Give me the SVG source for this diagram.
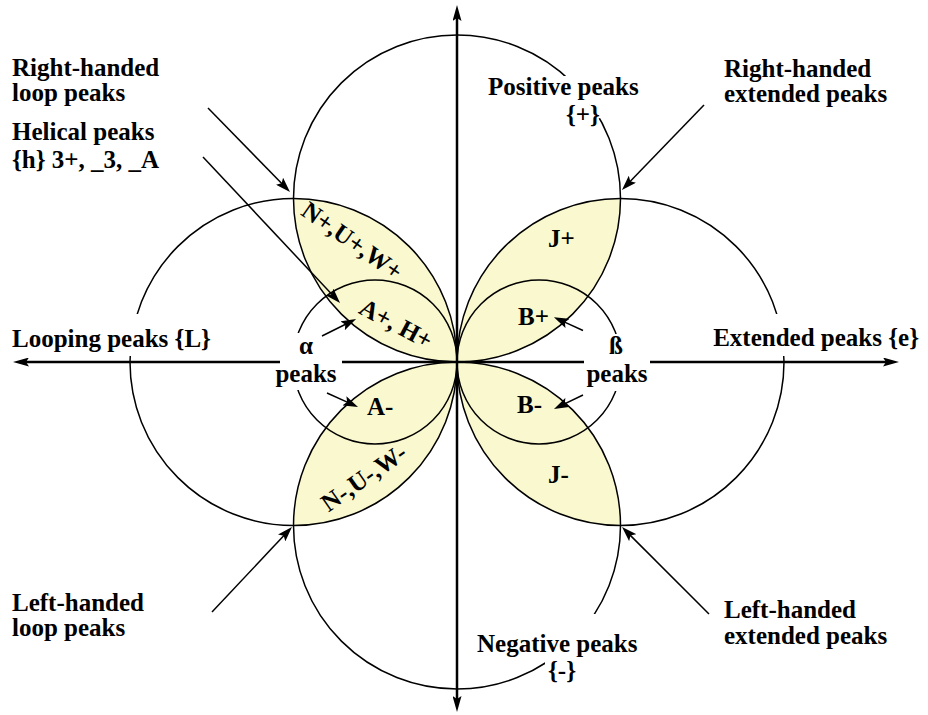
<svg xmlns="http://www.w3.org/2000/svg" width="928" height="715" viewBox="0 0 928 715">
<defs>
<style>
.lbl{font-family:"Liberation Serif","Times New Roman",serif;font-weight:bold;font-size:25px;fill:#000}
.halo{stroke:#fff;stroke-width:4;paint-order:stroke;stroke-linejoin:round}
.circ{fill:none;stroke:#000;stroke-width:1.5}
.petal{fill:#faf8cf;stroke:none}
.axis{stroke:#000;stroke-width:2.5;fill:none}
.arr{stroke:#000;stroke-width:1.5;fill:none}
.mask{fill:#fff}
</style>
<marker id="ah" markerUnits="userSpaceOnUse" viewBox="0 0 15 10" markerWidth="15" markerHeight="10" refX="5" refY="5" orient="auto"><path d="M0,0 L15,5 L0,10 L3,5 z" fill="#000"/></marker>
<marker id="axh" markerUnits="userSpaceOnUse" viewBox="0 0 16 9" markerWidth="16" markerHeight="9" refX="5" refY="4.5" orient="auto"><path d="M0,0 L16,4.5 L0,9 L3,4.5 z" fill="#000"/></marker>
</defs>
<rect width="928" height="715" fill="#fff"/>

<g id="petals">
<path class="petal" d="M293.5,198.5 A163.5,163.5 0 0 1 457,362 A163.5,163.5 0 0 1 293.5,198.5 Z"/>
<path class="petal" d="M457,362 A163.5,163.5 0 0 1 620.5,198.5 A163.5,163.5 0 0 1 457,362 Z"/>
<path class="petal" d="M457,362 A163.5,163.5 0 0 1 293.5,525.5 A163.5,163.5 0 0 1 457,362 Z"/>
<path class="petal" d="M620.5,525.5 A163.5,163.5 0 0 1 457,362 A163.5,163.5 0 0 1 620.5,525.5 Z"/>
</g>

<g id="circles">
<circle class="circ" cx="457" cy="198.5" r="163.5"/>
<circle class="circ" cx="457" cy="525.5" r="163.5"/>
<circle class="circ" cx="293.5" cy="362" r="163.5"/>
<circle class="circ" cx="620.5" cy="362" r="163.5"/>
<circle class="circ" cx="375" cy="362" r="82"/>
<circle class="circ" cx="539" cy="362" r="82"/>
</g>

<g id="axes">
<path class="axis" d="M457,362 L24,362" marker-end="url(#axh)"/>
<path class="axis" d="M457,362 L888,362" marker-end="url(#axh)"/>
<path class="axis" d="M457,362 L457,16" marker-end="url(#axh)"/>
<path class="axis" d="M457,362 L457,701" marker-end="url(#axh)"/>
</g>

<g id="label-backgrounds">
<rect class="mask" x="8" y="314" width="218" height="42"/>
<rect class="mask" x="704" y="314" width="220" height="42"/>
<rect class="mask" x="280" y="333" width="62" height="57"/>
<rect class="mask" x="584" y="334" width="66" height="57"/>
<rect class="mask" x="484" y="76" width="162" height="28"/>
<rect class="mask" x="474" y="614" width="172" height="44"/>
<rect class="mask" x="545" y="658" width="37" height="28"/>
</g>

<g id="connectors">
<path class="arr" d="M208,108 L283,184.8" marker-end="url(#ah)"/>
<path class="arr" d="M203,157 L333.2,295.7" marker-end="url(#ah)"/>
<path class="arr" d="M322,336 L347.1,323.5" marker-end="url(#ah)"/>
<path class="arr" d="M327,393 L348.9,402.9" marker-end="url(#ah)"/>
<path class="arr" d="M583,330.5 L563,321.4" marker-end="url(#ah)"/>
<path class="arr" d="M583,395 L563,404.6" marker-end="url(#ah)"/>
<path class="arr" d="M704,105 L628.9,182.8" marker-end="url(#ah)"/>
<path class="arr" d="M212,612 L285.1,534.3" marker-end="url(#ah)"/>
<path class="arr" d="M709,614 L629.1,534.1" marker-end="url(#ah)"/>
</g>

<g id="rh-loop"><text class="lbl" x="12" y="76">Right-handed</text><text class="lbl" x="12" y="101">loop peaks</text></g>
<g id="helical"><text class="lbl" x="12" y="140">Helical peaks</text><text class="lbl" x="12" y="168">{h} 3+, _3, _A</text></g>
<g id="positive"><text class="lbl" x="488" y="95">Positive peaks</text><text class="lbl halo" x="566" y="123">{+}</text></g>
<g id="rh-ext"><text class="lbl" x="724" y="77">Right-handed</text><text class="lbl" x="724" y="102">extended peaks</text></g>
<g id="looping"><text class="lbl" x="12" y="347">Looping peaks {L}</text></g>
<g id="extended"><text class="lbl" x="919" y="346" text-anchor="end">Extended peaks {e}</text></g>
<g id="alpha"><text class="lbl" x="306" y="354" text-anchor="middle">α</text><text class="lbl" x="306" y="382" text-anchor="middle">peaks</text></g>
<g id="beta"><text class="lbl" x="616" y="354" text-anchor="middle">ß</text><text class="lbl" x="617" y="382" text-anchor="middle">peaks</text></g>
<g id="lh-loop"><text class="lbl" x="12" y="611">Left-handed</text><text class="lbl" x="12" y="636">loop peaks</text></g>
<g id="negative"><text class="lbl" x="477" y="652">Negative peaks</text><text class="lbl" x="562" y="679" text-anchor="middle">{-}</text></g>
<g id="lh-ext"><text class="lbl" x="724" y="618">Left-handed</text><text class="lbl" x="724" y="644">extended peaks</text></g>

<g id="petal-NUW-plus"><text class="lbl" transform="translate(352,241) rotate(35)" x="0" y="8" text-anchor="middle">N+,U+,W+</text></g>
<g id="petal-AH-plus"><text class="lbl" transform="translate(396,324) rotate(28)" x="0" y="8" text-anchor="middle">A+, H+</text></g>
<g id="petal-A-minus"><text class="lbl" x="367" y="415">A-</text></g>
<g id="petal-NUW-minus"><text class="lbl" transform="translate(364,478) rotate(-35)" x="0" y="8" text-anchor="middle">N-,U-,W-</text></g>
<g id="petal-J-plus"><text class="lbl" x="548" y="247">J+</text></g>
<g id="petal-B-plus"><text class="lbl" x="518" y="325">B+</text></g>
<g id="petal-B-minus"><text class="lbl" x="517" y="413">B-</text></g>
<g id="petal-J-minus"><text class="lbl" x="548" y="483">J-</text></g>
</svg>
